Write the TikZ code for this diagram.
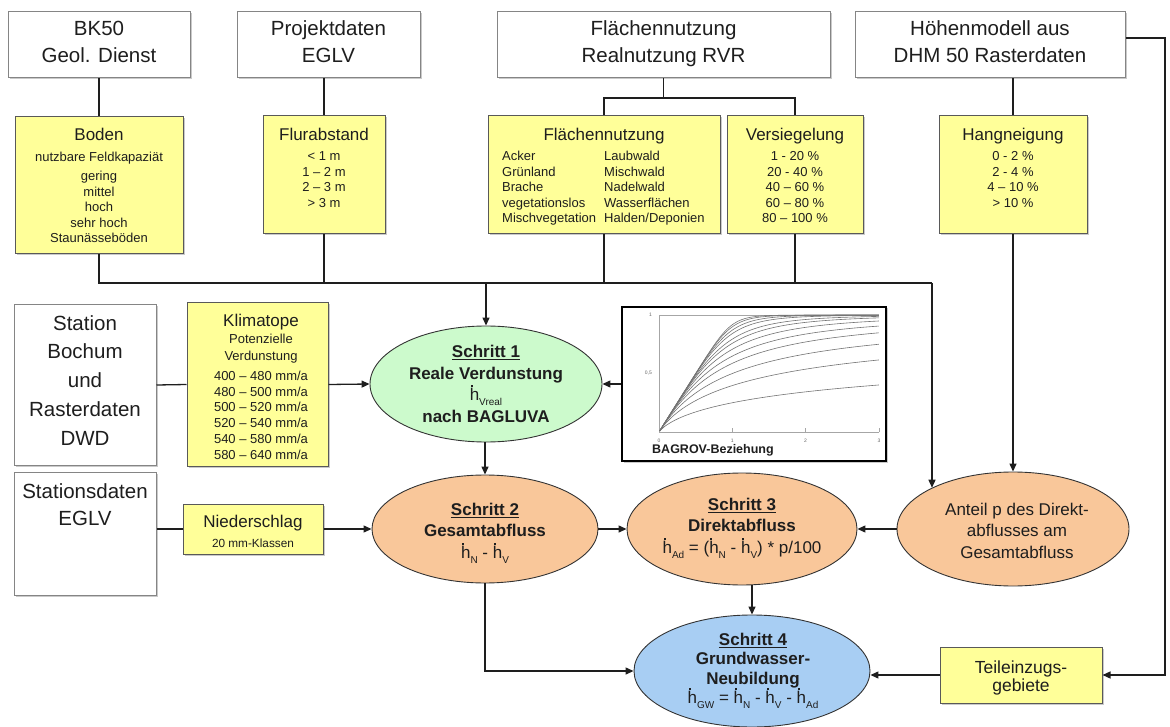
\documentclass[tikz,border=0pt]{standalone}
\usepackage{fontspec}
\setmainfont{Liberation Sans}
\usetikzlibrary{shapes.geometric,arrows.meta,shadows}
\definecolor{yel}{HTML}{FFFF99}
\definecolor{grn}{HTML}{CCFACC}
\definecolor{org}{HTML}{F9C79A}
\definecolor{blu}{HTML}{A8CEF3}
\definecolor{bord}{HTML}{858585}
\definecolor{ink}{HTML}{1E1E1E}
\newcommand{\setfs}[2]{\fontsize{#1}{#2}\selectfont}
\newcommand{\hdt}{\makebox[0pt][l]{\kern0.07em\smash{\raisebox{0.8em}{\rule{0.11em}{0.11em}}}}h}
\newcommand{\hsb}[1]{\hdt\smash{\raisebox{-0.3em}{\setfs{10}{10}#1}}}
\tikzset{
  sz/.style n args={2}{minimum width=#1pt, minimum height=#2pt},
  shd/.style={drop shadow={shadow xshift=1.5pt,shadow yshift=-1.5pt,opacity=0.35,fill=black!60}},
  srcbox/.style={rectangle, draw=bord, line width=1pt, fill=white, inner sep=0, shd},
  yelbox/.style={rectangle, draw=black!65, line width=1pt, fill=yel, inner sep=0, shd},
  stepell/.style={ellipse, draw=black!80, line width=0.9pt, inner sep=0},
  lbl/.style={inner sep=0, anchor=north, align=center, text=ink},
  ln/.style={draw=ink, line width=1.3pt},
  arr/.style={ln, -{Triangle[length=8pt,width=7pt]}},
  topf/.style={font=\setfs{20.5}{27.5}},
  ttlf/.style={font=\setfs{17}{20}},
  itmf/.style={font=\setfs{13}{15.5}},
  stpf/.style={font=\setfs{17}{21.5}\bfseries},
}
\begin{document}
\begin{tikzpicture}[x=1pt,y=-1pt]
\useasboundingbox (0,0) rectangle (1170,727);

% source boxes
\node[srcbox, sz={182}{66}] (bk) at (99,45) {};
\node[srcbox, sz={183}{66}] (proj) at (328.5,45) {};
\node[srcbox, sz={333}{66}] (flt) at (663.5,45) {};
\node[srcbox, sz={270}{66}] (hoe) at (990,45) {};
\node[srcbox, sz={142}{160}] (st1) at (85,385) {};
\node[srcbox, sz={142}{123}] (st2) at (85,533.5) {};

\node[lbl, topf] (bkT) at (99,14.5) {\rule{0pt}{1em}BK50\\Geol. Dienst};
\node[lbl, topf] (projT) at (328.5,14.5) {\rule{0pt}{1em}Projektdaten\\EGLV};
\node[lbl, topf] (fltT) at (663.5,14.5) {\rule{0pt}{1em}Flächennutzung\\Realnutzung RVR};
\node[lbl, topf] (hoeT) at (990,14.5) {\rule{0pt}{1em}Höhenmodell aus\\DHM 50 Rasterdaten};
\node[lbl, font=\setfs{20.5}{28.7}] (st1T) at (85,309.5) {\rule{0pt}{1em}Station\\Bochum\\und\\Rasterdaten\\DWD};
\node[lbl, topf] (st2T) at (85,477.5) {\rule{0pt}{1em}Stationsdaten\\EGLV};

% yellow boxes
\node[yelbox, sz={168}{137}] (boden) at (99,185.5) {};
\node[yelbox, sz={122}{118}] (flur) at (324,175) {};
\node[yelbox, sz={232}{118}] (flae) at (604,175) {};
\node[yelbox, sz={136}{118}] (vers) at (795,175) {};
\node[yelbox, sz={148}{118}] (hang) at (1013,175) {};
\node[yelbox, sz={141}{163}] (klim) at (257.5,384.5) {};
\node[yelbox, sz={140}{50}] (nied) at (253,529) {};
\node[yelbox, sz={162}{56}] (tei) at (1021,675) {};

\node[lbl, ttlf] (bodenH) at (99,123.5) {\rule{0pt}{1em}Boden};
\node[lbl, itmf] (bodenS) at (99,148) {\rule{0pt}{1em}nutzbare Feldkapaziät};
\node[lbl, itmf] (bodenI) at (99,167.7) {\rule{0pt}{1em}gering\\mittel\\hoch\\sehr hoch\\Staunässeböden};

\node[lbl, ttlf] (flurH) at (324,123.5) {\rule{0pt}{1em}Flurabstand};
\node[lbl, itmf] (flurI) at (324,147.7) {\rule{0pt}{1em}< 1 m\\1 – 2 m\\2 – 3 m\\> 3 m};

\node[lbl, ttlf] (flaeH) at (604,123.5) {\rule{0pt}{1em}Flächennutzung};
\node[lbl, itmf, anchor=north west, align=left] (flaeL) at (502,147.7) {\rule{0pt}{1em}Acker\\Grünland\\Brache\\vegetationslos\\Mischvegetation};
\node[lbl, itmf, anchor=north west, align=left] (flaeR) at (604,147.7) {\rule{0pt}{1em}Laubwald\\Mischwald\\Nadelwald\\Wasserflächen\\Halden/Deponien};

\node[lbl, ttlf] (versH) at (795,123.5) {\rule{0pt}{1em}Versiegelung};
\node[lbl, itmf] (versI) at (795,147.7) {\rule{0pt}{1em}1 - 20 \%\\20 - 40 \%\\40 – 60 \%\\60 – 80 \%\\80 – 100 \%};

\node[lbl, ttlf] (hangH) at (1013,123.5) {\rule{0pt}{1em}Hangneigung};
\node[lbl, itmf] (hangI) at (1013,147.7) {\rule{0pt}{1em}0 - 2 \%\\2 - 4 \%\\4 – 10 \%\\> 10 \%};

\node[lbl, ttlf] (klimH) at (261,309.7) {\rule{0pt}{1em}Klimatope};
\node[lbl, font=\setfs{13}{16.7}] (klimS) at (261,330.3) {\rule{0pt}{1em}Potenzielle\\Verdunstung};
\node[lbl, font=\setfs{13}{15.8}] (klimI) at (261,367) {\rule{0pt}{1em}400 – 480 mm/a\\480 – 500 mm/a\\500 – 520 mm/a\\520 – 540 mm/a\\540 – 580 mm/a\\580 – 640 mm/a};

\node[lbl, ttlf] (niedH) at (253,510) {\rule{0pt}{1em}Niederschlag};
\node[lbl, font=\setfs{11.8}{14}] (niedS) at (253,535.2) {\rule{0pt}{1em}20 mm-Klassen};

\node[lbl, font=\setfs{17.5}{18.4}] (teiT) at (1021,655.8) {\rule{0pt}{1em}Teileinzugs-\\gebiete};

% BAGROV box
\node[rectangle, draw=black, line width=2.2pt, fill=white, sz={264}{154}, shd, inner sep=0] (bag) at (754,384) {};
\begin{scope}[shift={(659,432)}, x=73.3pt, y=117pt]
  \draw[black!35, line width=0.4pt] (0,0) -- (3,0) (0,0) -- (0,1.0) (0,1) -- (3,1);
  \foreach \t in {1,2,3} \draw[black!35, line width=0.4pt] (\t,0) -- (\t,0.03);
  \foreach \n in {0.5,0.75,1,1.3,1.6,2,2.5,3,4,5,6.5,8}
    \draw[black!55, line width=0.6pt] plot[domain=0.01:3, samples=60, smooth] (\x,{\x/pow(1+pow(\x,\n),1/\n)});
  \node[font=\setfs{5}{6}, text=black!60, anchor=north] (tk0) at (0,-0.03) {0};
  \node[font=\setfs{5}{6}, text=black!60, anchor=north] (tk1) at (1,-0.03) {1};
  \node[font=\setfs{5}{6}, text=black!60, anchor=north] (tk2) at (2,-0.03) {2};
  \node[font=\setfs{5}{6}, text=black!60, anchor=north] (tk3) at (3,-0.03) {3};
  \node[font=\setfs{5}{6}, text=black!60, anchor=east] (tk5) at (-0.05,0.5) {0,5};
  \node[font=\setfs{5}{6}, text=black!60, anchor=east] (tk6) at (-0.05,1) {1};
\end{scope}
\node[inner sep=0, anchor=base west, font=\setfs{12.5}{14}\bfseries, text=ink] (bagT) at (652,453.3) {BAGROV-Beziehung};

% ellipses
\node[stepell, fill=grn, sz={232}{116}] (s1) at (486,384) {};
\node[stepell, fill=org, sz={226}{108}] (s2) at (485,529) {};
\node[stepell, fill=org, sz={230}{112}] (s3) at (742,529) {};
\node[stepell, fill=org, sz={232}{114}] (ant) at (1013,529) {};
\node[stepell, fill=blu, sz={236}{112}] (s4) at (752,671) {};

\node[lbl, stpf] (s1T) at (486,340.3) {\rule{0pt}{1em}\underline{Schritt 1}\\Reale Verdunstung\\{\mdseries\hsb{Vreal}}\\nach BAGLUVA};
\node[lbl, stpf] (s2T) at (485,498) {\rule{0pt}{1em}\underline{Schritt 2}\\Gesamtabfluss\\{\mdseries\hsb{N} - \hsb{V}}};
\node[lbl, stpf] (s3T) at (742,493) {\rule{0pt}{1em}\underline{Schritt 3}\\Direktabfluss\\{\mdseries\hsb{Ad} = (\hsb{N} - \hsb{V}) * p/100}};
\node[lbl, font=\setfs{17}{21.7}] (antT) at (1017,498) {\rule{0pt}{1em}Anteil p des Direkt-\\abflusses am\\Gesamtabfluss};
\node[lbl, font=\setfs{17}{19.5}\bfseries] (s4T) at (753,628) {\rule{0pt}{1em}\underline{Schritt 4}\\Grundwasser-\\Neubildung\\{\mdseries\hsb{GW} = \hsb{N} - \hsb{V} - \hsb{Ad}}};

% connectors
\coordinate (brk) at (0,98);
\coordinate (col) at (0,283);
\coordinate (rail) at (1165,38);
\draw[ln] (bk.south -| boden.north) -- (boden.north);
\draw[ln] (flur.north |- proj.south) -- (flur.north);
\draw[ln] (flt.south) -- (flt.south |- brk);
\draw[ln] (flae.north) -- (flae.north |- brk) -- (vers.north |- brk) -- (vers.north);
\draw[ln] (hang.north |- hoe.south) -- (hang.north);
\draw[arr] (hoe.east |- rail) -- (rail) -- (rail |- tei.east) -- (tei.east);

\draw[ln] (boden.south) -- (boden.south |- col) -- (ant.153 |- col);
\draw[ln] (flur.south) -- (flur.south |- col);
\draw[ln] (flae.south) -- (flae.south |- col);
\draw[ln] (vers.south) -- (vers.south |- col);
\draw[arr] (s1.north |- col) -- (s1.north);
\draw[arr] (ant.153 |- col) -- (ant.153);
\draw[arr] (hang.south) -- (ant.north);

\draw[ln] (st1.east) -- (klim.west);
\draw[arr] (klim.east) -- (s1.west);
\draw[arr] (bag.west) -- (s1.east);
\draw[arr] (s2.north |- s1.south) -- (s2.north);
\draw[ln] (st2.east |- nied.west) -- (nied.west);
\draw[arr] (nied.east) -- (s2.west);
\draw[arr] (s2.east) -- (s3.west);
\draw[arr] (ant.west) -- (s3.east);
\draw[arr] (s4.north |- s3.south) -- (s4.north);
\draw[arr] (s2.south) -- (s2.south |- s4.west) -- (s4.west);
\draw[arr] (tei.west) -- (tei.west -| s4.east);
\end{tikzpicture}
\end{document}
